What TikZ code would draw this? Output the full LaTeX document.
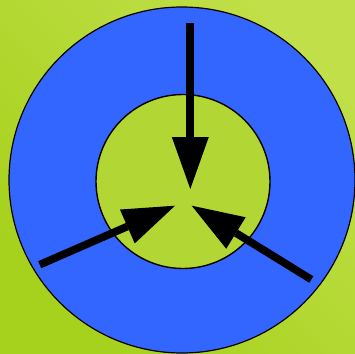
\documentclass[tikz,border=0pt]{standalone}
\usetikzlibrary{arrows.meta}
\definecolor{bgA}{RGB}{192,223,72}
\definecolor{bgB}{RGB}{166,209,28}
\definecolor{ringblue}{RGB}{51,102,255}
\definecolor{hubgreen}{RGB}{178,215,52}
\tikzset{
  ring/.style={circle, draw=black, line width=1.2pt, inner sep=0pt},
  ptr/.style={line width=7.7pt, line cap=butt,
    -{Triangle[length=52pt, width=37pt, line width=0pt]}}
}
\begin{document}
\begin{tikzpicture}[x=1pt, y=-1pt]
  \useasboundingbox (0,0) rectangle (355,353);
  \shade[top color=bgA, bottom color=bgB, shading angle=-45] (0,0) rectangle (355,353);
  \node[ring, fill=ringblue, minimum size=346pt] (outer) at (182,180) {};
  \node[ring, fill=hubgreen, minimum size=174pt, line width=1.4pt] (inner) at (183,181.5) {};
  \coordinate (t1) at (190.3,23.3);
  \coordinate (h1) at (190.3,189);
  \coordinate (t2) at (39.7,264.7);
  \coordinate (h2) at (175,205.7);
  \coordinate (t3) at (311.3,279.5);
  \coordinate (h3) at (191.7,205.7);
  \draw[ptr] (t1) -- (h1);
  \draw[ptr] (t2) -- (h2);
  \draw[ptr] (t3) -- (h3);
\end{tikzpicture}
\end{document}
